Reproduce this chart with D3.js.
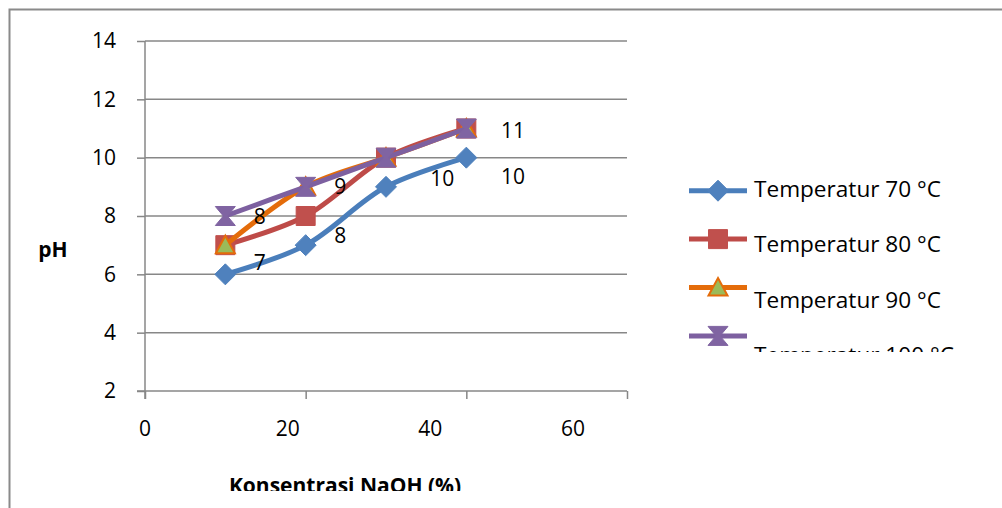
<!DOCTYPE html>
<html>
<head>
<meta charset="utf-8">
<script src="https://cdn.jsdelivr.net/npm/d3@7"></script>
<style>
  html, body { margin: 0; padding: 0; background: #fff; }
  svg { display: block; }
  text { font-family: "Open Sans", "Noto Sans", sans-serif; fill: #000; }
</style>
</head>
<body>
<svg id="chart" width="1002" height="508"></svg>
<script>
// ---------- data ----------
const concentrations = [10, 20, 30, 40];
const seriesNames = ["Temperatur 70 °C", "Temperatur 80 °C", "Temperatur 90 °C", "Temperatur 100 °C"];
const ph70  = [6, 7, 9, 10];
const ph80  = [7, 8, 10, 11];
const ph90  = [7, 9, 10, 11];
const ph100 = [8, 9, 10, 11];
const xTickValues = [0, 20, 40, 60];
const yTickValues = [2, 4, 6, 8, 10, 12, 14];
const dataLabelTexts = ["8", "7", "8", "9", "10", "11", "10"];
const dataLabelX = [14.3, 14.3, 24.3, 24.3, 37, 45.8, 45.8];
const dataLabelY = [8.0, 6.4, 7.35, 9.0, 9.3, 10.95, 9.35];
const xTitle = "Konsentrasi NaOH (%)";
const yTitle = "pH";

// ---------- styles ----------
const lineColors   = ["#4A7EBB", "#BE4B48", "#E46C0A", "#7D60A0"];
const markerFill   = ["#4F81BD", "#C0504D", "#9BBB59", "#8064A2"];
const markerStroke = ["#4F81BD", "#C0504D", "#E46C0A", "#8064A2"];
const markerTypes  = ["diamond", "square", "triangle", "hourglass"];
const gridColor = "#878787";

const svg = d3.select("#chart");

// scales
const x = d3.scaleLinear().domain([0, 60]).range([145, 627]);
const xLabelPos = d3.scaleLinear().domain([0, 60]).range([145, 573]);
const y = d3.scaleLinear().domain([2, 14]).range([391, 41]);

// outer border (right and bottom edges outside the view)
svg.append("path")
  .attr("d", "M9.5,508 L9.5,9.5 L1002,9.5")
  .attr("fill", "none").attr("stroke", "#8a8a8a").attr("stroke-width", 2);

// gridlines
svg.append("g").selectAll("line").data(yTickValues.filter(v => v !== 2)).join("line")
  .attr("x1", x(0)).attr("x2", x(60))
  .attr("y1", d => y(d)).attr("y2", d => y(d))
  .attr("stroke", gridColor).attr("stroke-width", 1.5);

// y axis
const yAxis = svg.append("g").attr("transform", `translate(${x(0)},0)`)
  .call(d3.axisLeft(y).tickValues(yTickValues).tickSize(8).tickPadding(21).tickFormat(d3.format("d")));
yAxis.select(".domain").attr("stroke", gridColor).attr("stroke-width", 1.5)
  .attr("d", `M0,${y(14)}V${y(2) + 8}`);
yAxis.selectAll(".tick line").attr("stroke", gridColor).attr("stroke-width", 1.5);
yAxis.selectAll(".tick text").attr("font-size", 21).attr("font-family", "Open Sans").attr("fill", "#000");

// x axis (ticks)
const xAxis = svg.append("g").attr("transform", `translate(0,${y(2)})`)
  .call(d3.axisBottom(x).tickValues(xTickValues).tickSize(8).tickFormat(""));
xAxis.select(".domain").attr("stroke", gridColor).attr("stroke-width", 1.5)
  .attr("d", `M${x(0) - 8},0H${x(60)}`);
xAxis.selectAll(".tick line").attr("stroke", gridColor).attr("stroke-width", 1.5);

// x tick labels (offset as in reference)
svg.append("g").selectAll("text").data(xTickValues).join("text")
  .attr("x", d => xLabelPos(d)).attr("y", 429).attr("dy", "0.35em")
  .attr("text-anchor", "middle").attr("font-size", 21)
  .text(d => d);

// axis titles
const defs = svg.append("defs");
defs.append("clipPath").attr("id", "xTitleClip")
  .append("rect").attr("x", 0).attr("y", 0).attr("width", 1002).attr("height", 491);
svg.append("text")
  .attr("clip-path", "url(#xTitleClip)")
  .attr("x", 345).attr("y", 493)
  .attr("text-anchor", "middle").attr("font-size", 21).attr("font-weight", "bold")
  .text(xTitle);
svg.append("text")
  .attr("x", 53).attr("y", 257)
  .attr("text-anchor", "middle").attr("font-size", 21).attr("font-weight", "bold")
  .text(yTitle);

// marker generator
function markerPath(type) {
  switch (type) {
    case "diamond": return "M0,-10.5L10.5,0L0,10.5L-10.5,0Z";
    case "square": return "M-9.5,-9.5H9.5V9.5H-9.5Z";
    case "triangle": return "M0,-9.5L9.5,8L-9.5,8Z";
    case "hourglass": return "M-10,-9.5H10L2,0L10,9.5H-10L-2,0Z";
  }
}

const seriesValues = [ph70, ph80, ph90, ph100];
const series = seriesNames.map((name, i) => ({
  name, i, points: concentrations.map((c, j) => ({ x: c, y: seriesValues[i][j] }))
}));

const line = d3.line().x(d => x(d.x)).y(d => y(d.y)).curve(d3.curveCatmullRom.alpha(0.5));

const sg = svg.append("g").selectAll("g").data(series).join("g");
sg.append("path")
  .attr("d", d => line(d.points))
  .attr("fill", "none").attr("stroke", d => lineColors[d.i]).attr("stroke-width", 5)
  .attr("stroke-linejoin", "round").attr("stroke-linecap", "round");
sg.selectAll("path.m").data(d => d.points.map(p => ({ ...p, i: d.i }))).join("path")
  .attr("class", "m")
  .attr("transform", d => `translate(${x(d.x)},${y(d.y)})`)
  .attr("d", d => markerPath(markerTypes[d.i]))
  .attr("fill", d => markerFill[d.i])
  .attr("stroke", d => markerStroke[d.i])
  .attr("stroke-width", d => d.i === 2 ? 2 : 1);

// data labels
svg.append("g").selectAll("text").data(dataLabelTexts).join("text")
  .attr("x", (d, k) => x(dataLabelX[k])).attr("y", (d, k) => y(dataLabelY[k]))
  .attr("dy", "0.36em").attr("text-anchor", "middle").attr("font-size", 21)
  .text(d => d);

// legend
defs.append("clipPath").attr("id", "legendClip")
  .append("rect").attr("x", 660).attr("y", 150).attr("width", 342).attr("height", 202);
const lg = svg.append("g").attr("clip-path", "url(#legendClip)");
const items = lg.selectAll("g").data(series).join("g");
items.append("line")
  .attr("x1", 689).attr("x2", 747)
  .attr("y1", d => 190.7 + d.i * 48.4).attr("y2", d => 190.7 + d.i * 48.4)
  .attr("stroke", d => lineColors[d.i]).attr("stroke-width", 5);
items.append("path")
  .attr("transform", d => `translate(718,${190.7 + d.i * 48.4})`)
  .attr("d", d => markerPath(markerTypes[d.i]))
  .attr("fill", d => markerFill[d.i])
  .attr("stroke", d => markerStroke[d.i])
  .attr("stroke-width", d => d.i === 2 ? 2 : 1);
items.append("text")
  .attr("x", 754).attr("y", d => 197 + d.i * 55.3)
  .attr("font-size", 22.6)
  .text(d => d.name);
</script>
</body>
</html>
